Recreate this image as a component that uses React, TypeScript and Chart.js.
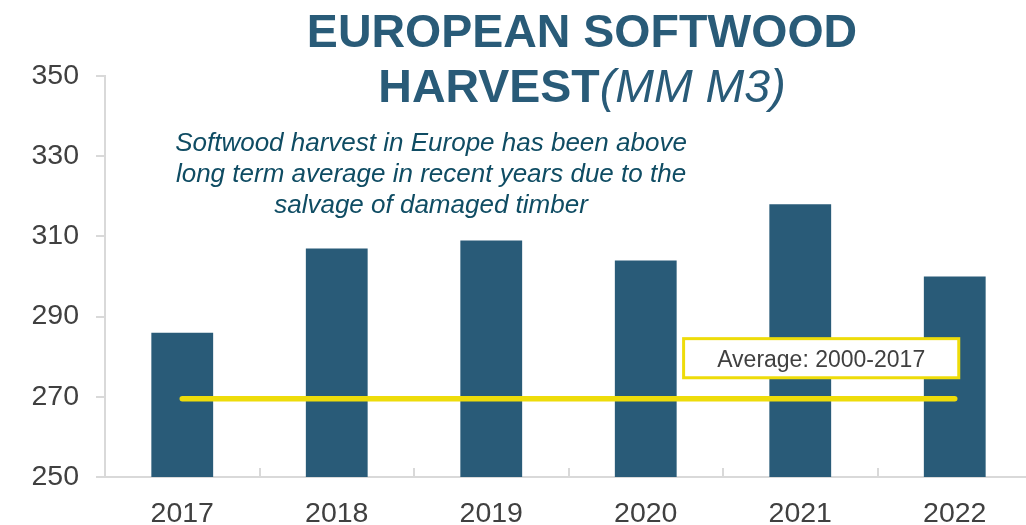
import React, { useEffect, useRef } from "react";
import { Chart, registerables } from "chart.js";

Chart.register(...registerables);

const categories = ["2017", "2018", "2019", "2020", "2021", "2022"];
const harvestValues = [286, 307, 309, 304, 318, 300];
const averageValue = 269.5;
const averageValues = categories.map(() => averageValue);
const yTicks = [250, 270, 290, 310, 330, 350];
const titleLine1 = "EUROPEAN SOFTWOOD";
const titleLine2Bold = "HARVEST";
const titleLine2Italic = "(MM M3)";
const noteLines = [
  "Softwood harvest in Europe has been above",
  "long term average in recent years due to the",
  "salvage of damaged timber",
];
const averageLabel = "Average: 2000-2017";

const FONT = "'Liberation Sans', Arial, sans-serif";
const BAR_COLOR = "#295B78";
const TITLE_COLOR = "#295B78";
const NOTE_COLOR = "#0F4C63";
const YELLOW = "#EEDC0A";
const AXIS_COLOR = "#D9D9D9";
const TEXT_COLOR = "#404040";

const W = 1040;
const H = 545;

const textPlugin = {
  id: "customText",
  afterDraw(chart: any) {
    const ctx = chart.ctx;
    ctx.save();
    // Title
    ctx.fillStyle = TITLE_COLOR;
    ctx.textBaseline = "alphabetic";
    ctx.textAlign = "left";
    const cx = 582;
    ctx.font = `bold 46.5px ${FONT}`;
    const w1 = ctx.measureText(titleLine1).width;
    ctx.fillText(titleLine1, cx - w1 / 2, 47);
    const wb = ctx.measureText(titleLine2Bold).width;
    ctx.font = `italic 46.5px ${FONT}`;
    const wi = ctx.measureText(titleLine2Italic).width;
    const start = cx - (wb + wi) / 2;
    ctx.font = `bold 46.5px ${FONT}`;
    ctx.fillText(titleLine2Bold, start, 102);
    ctx.font = `italic 46.5px ${FONT}`;
    ctx.fillText(titleLine2Italic, start + wb, 102);

    // Note
    ctx.fillStyle = NOTE_COLOR;
    ctx.font = `italic 26px ${FONT}`;
    ctx.textAlign = "center";
    noteLines.forEach((line, i) => {
      ctx.fillText(line, 431, 151 + i * 31);
    });

    // Average label box
    const xs = chart.scales.x;
    const ys = chart.scales.y;
    const step = xs.getPixelForValue(1) - xs.getPixelForValue(0);
    const right = xs.getPixelForValue(5) + 4;
    const left = xs.getPixelForValue(3) + step * 0.245;
    const top = ys.getPixelForValue(284.5);
    const bottom = ys.getPixelForValue(274.75);
    ctx.fillStyle = "#ffffff";
    ctx.fillRect(left, top, right - left, bottom - top);
    ctx.strokeStyle = YELLOW;
    ctx.lineWidth = 3;
    ctx.strokeRect(left, top, right - left, bottom - top);
    ctx.fillStyle = TEXT_COLOR;
    ctx.font = `23px ${FONT}`;
    ctx.textAlign = "center";
    ctx.textBaseline = "alphabetic";
    ctx.fillText(averageLabel, (left + right) / 2, top + 28);
    ctx.restore();
  },
};

export default function App() {
  const ref = useRef<HTMLCanvasElement | null>(null);
  useEffect(() => {
    document.body.style.overflow = "hidden";
    const canvas = ref.current;
    if (!canvas) return;
    const chart = new Chart(canvas, {
      type: "bar",
      data: {
        labels: categories,
        datasets: [
          {
            type: "line",
            data: averageValues,
            borderColor: YELLOW,
            borderWidth: 5.5,
            borderCapStyle: "round",
            pointRadius: 0,
            fill: false,
            order: 0,
          } as any,
          {
            type: "bar",
            data: harvestValues,
            backgroundColor: BAR_COLOR,
            categoryPercentage: 1,
            barPercentage: 0.4,
            order: 1,
          },
        ],
      },
      options: {
        responsive: false,
        animation: false,
        devicePixelRatio: 1,
        layout: { padding: { left: 0, right: W - 1032, top: 76, bottom: 0 } },
        plugins: {
          legend: { display: false },
          tooltip: { enabled: false },
          title: { display: false },
        },
        scales: {
          x: {
            offset: true,
            grid: {
              offset: true,
              drawOnChartArea: false,
              drawTicks: true,
              tickLength: -9,
              color: AXIS_COLOR,
              lineWidth: 2,
            },
            border: { color: AXIS_COLOR, width: 2 },
            ticks: {
              color: TEXT_COLOR,
              font: { family: FONT, size: 28.5 },
              padding: 29,
              maxRotation: 0,
            },
            afterFit: (scale: any) => {
              scale.height = H - 477;
            },
          },
          y: {
            min: 250,
            max: 350,
            afterBuildTicks: (scale: any) => {
              scale.ticks = yTicks.map((v) => ({ value: v }));
            },
            grid: {
              drawOnChartArea: false,
              drawTicks: true,
              tickLength: 9,
              color: AXIS_COLOR,
              lineWidth: 2,
            },
            border: { color: AXIS_COLOR, width: 2 },
            ticks: {
              color: TEXT_COLOR,
              font: { family: FONT, size: 28.5 },
              padding: 17,
            },
            afterFit: (scale: any) => {
              scale.width = 105;
            },
          },
        },
      },
      plugins: [textPlugin],
    });
    return () => chart.destroy();
  }, []);
  return (
    <div
      style={{
        position: "absolute",
        left: 0,
        top: 0,
        width: 1026,
        height: 525,
        overflow: "hidden",
        background: "#ffffff",
      }}
    >
      <canvas ref={ref} width={W} height={H} style={{ width: W, height: H, display: "block" }} />
    </div>
  );
}
